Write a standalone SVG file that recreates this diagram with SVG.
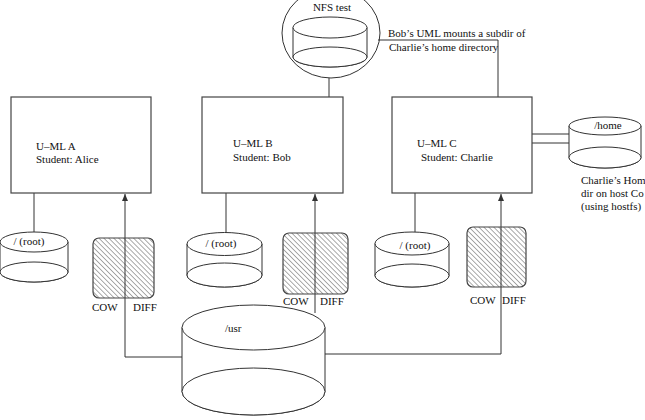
<svg xmlns="http://www.w3.org/2000/svg" width="645" height="420" viewBox="0 0 645 420">
<defs>
<style>
.s{fill:none;stroke:#333;stroke-width:1}
.b{fill:#fff;stroke:#444;stroke-width:1.2}
.c{fill:#fff;stroke:#333;stroke-width:1}
.h{fill:url(#hatch);stroke:#444;stroke-width:1.2}
text{font-family:"Liberation Serif","Times New Roman",serif;font-size:11px;fill:#111}
.m{text-anchor:middle}
</style>
<pattern id="hatch" width="3.5" height="3.5" patternUnits="userSpaceOnUse" patternTransform="rotate(45)">
<rect width="3.5" height="3.5" fill="#fff"/>
<line x1="0" y1="0" x2="3.5" y2="0" stroke="#444" stroke-width="0.9"/>
</pattern>
<marker id="arr" markerWidth="8" markerHeight="6" refX="7" refY="3" orient="auto" markerUnits="userSpaceOnUse" viewBox="0 0 8 6">
<path d="M0,0 L7,3 L0,6 Z" fill="#333"/>
</marker>
</defs>

<g id="connectors">
<line class="s" x1="34" y1="193" x2="34" y2="232"/>
<line class="s" x1="226" y1="193" x2="226" y2="233"/>
<line class="s" x1="415" y1="193" x2="415" y2="232"/>
<polyline class="s" points="182,357 125,357 125,194" marker-end="url(#arr)"/>
<line class="s" x1="315" y1="313" x2="315" y2="194" marker-end="url(#arr)"/>
<polyline class="s" points="325,354 501,354 501,194" marker-end="url(#arr)"/>
<line class="s" x1="329" y1="78" x2="329" y2="97"/>
<polyline class="s" points="378,40 498,40 498,134 569,134"/>
<line class="s" x1="532" y1="143" x2="569" y2="143"/>
</g>

<g id="nfs">
<ellipse class="s" cx="331" cy="33" rx="49" ry="45"/>
<path class="c" d="M293,27.5 V57 A37,10 0 0 0 367,57 V27.5"/>
<ellipse class="c" cx="330" cy="57" rx="37" ry="10"/>
<ellipse class="c" cx="330" cy="27.5" rx="37" ry="10.5"/>
<text class="m" x="332" y="11">NFS test</text>
</g>
<text x="388" y="37">Bob’s UML mounts a subdir of</text>
<text x="389" y="51">Charlie’s home directory</text>

<g id="umlA">
<rect class="b" x="11" y="97" width="140" height="96"/>
<text x="36" y="150">U–ML A</text>
<text x="36" y="163">Student: Alice</text>
</g>
<g id="umlB">
<rect class="b" x="202" y="97" width="141" height="96"/>
<text x="233" y="147">U–ML B</text>
<text x="233" y="161">Student: Bob</text>
</g>
<g id="umlC">
<rect class="b" x="392" y="97" width="140" height="96"/>
<text x="417" y="147">U–ML C</text>
<text x="421" y="161">Student: Charlie</text>
</g>

<g id="home">
<path class="c" d="M569,126 V157.5 A36,10.5 0 0 0 641,157.5 V126"/>
<ellipse class="c" cx="605" cy="157.5" rx="36" ry="10.5"/>
<ellipse class="c" cx="605" cy="126" rx="36" ry="9"/>
<text class="m" x="608" y="129">/home</text>
<text x="581" y="184">Charlie’s Home</text>
<text x="581" y="197">dir on host Co</text>
<text x="581" y="210">(using hostfs)</text>
</g>

<g id="rootA">
<path class="c" d="M0,242 V272 A34,10 0 0 0 68,272 V242"/>
<ellipse class="c" cx="34" cy="272" rx="34" ry="10"/>
<ellipse class="c" cx="34" cy="242" rx="34" ry="10"/>
<text class="m" x="29" y="245">/ (root)</text>
</g>
<g id="rootB">
<path class="c" d="M187,244 V275 A37.5,12 0 0 0 262,275 V244"/>
<ellipse class="c" cx="224.5" cy="275" rx="37.5" ry="12"/>
<ellipse class="c" cx="224.5" cy="244" rx="37.5" ry="11.5"/>
<text class="m" x="221" y="247">/ (root)</text>
</g>
<g id="rootC">
<path class="c" d="M375,243.5 V275.5 A37,11.5 0 0 0 449,275.5 V243.5"/>
<ellipse class="c" cx="412" cy="275.5" rx="37" ry="11.5"/>
<ellipse class="c" cx="412" cy="243.5" rx="37" ry="11.5"/>
<text class="m" x="415" y="249">/ (root)</text>
</g>

<g id="cowA">
<rect class="h" x="93" y="238" width="61" height="60" rx="6"/>
<line class="s" x1="125" y1="238" x2="125" y2="298"/>
<text x="92" y="311">COW</text>
<text x="133" y="311">DIFF</text>
</g>
<g id="cowB">
<rect class="h" x="283" y="233" width="65" height="61" rx="6"/>
<line class="s" x1="315" y1="233" x2="315" y2="294"/>
<text x="283" y="305">COW</text>
<text x="320" y="305">DIFF</text>
</g>
<g id="cowC">
<rect class="h" x="467" y="227" width="59" height="60" rx="6"/>
<line class="s" x1="501" y1="227" x2="501" y2="287"/>
<text x="470" y="304">COW</text>
<text x="502" y="304">DIFF</text>
</g>

<g id="usr">
<path class="c" d="M182,327.5 V391.5 A71.5,23.5 0 0 0 325,391.5 V327.5"/>
<ellipse class="c" cx="253.5" cy="391.5" rx="71.5" ry="23.5"/>
<ellipse class="c" cx="253.5" cy="327.5" rx="71.5" ry="22.5"/>
<text x="225" y="332">/usr</text>
</g>
</svg>
